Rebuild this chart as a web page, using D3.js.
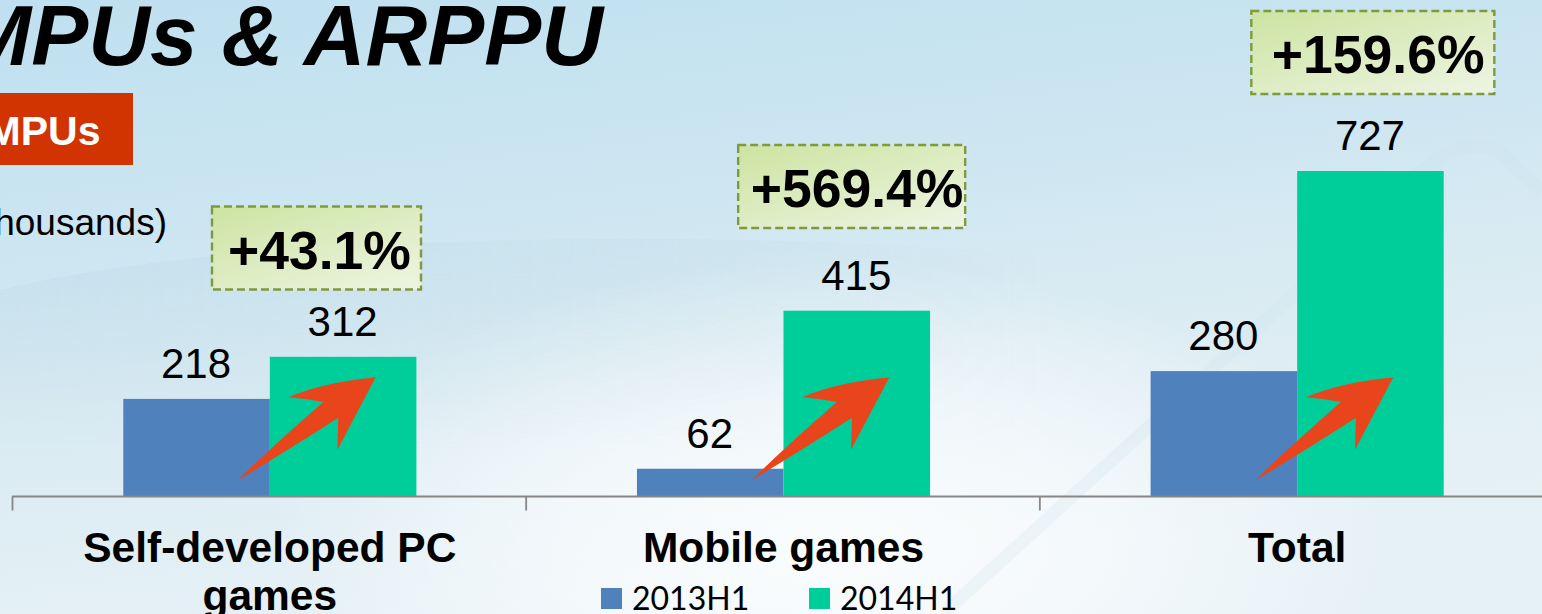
<!DOCTYPE html>
<html><head><meta charset="utf-8">
<style>html,body{margin:0;padding:0;background:#fff;overflow:hidden}svg{display:block}text{font-family:"Liberation Sans",Arial,sans-serif}</style>
<script src="https://cdn.jsdelivr.net/npm/d3@7/dist/d3.min.js"></script>
</head><body><svg id="c" width="1542" height="614"></svg>
<script>
const categories = ["Self-developed PC games", "Mobile games", "Total"];
const series2013 = [218, 62, 280];
const series2014 = [312, 415, 727];
const growthLabels = ["+43.1%", "+569.4%", "+159.6%"];
const seriesNames = ["2013H1", "2014H1"];
const titleText = "MPUs & ARPPU";
const tagText = "MPUs";
const unitText = "(in thousands)";

const W = 1542, H = 614, axisY = 496.5;
const svg = d3.select("#c");
const defs = svg.append("defs");

const bg = defs.append("linearGradient").attr("id","bg").attr("x1",0).attr("y1",0).attr("x2",0.3).attr("y2",1);
[[0,"#bfe0f0"],[0.35,"#cbe5f1"],[0.7,"#dcecf3"],[1,"#e6f1f6"]].forEach(d=>bg.append("stop").attr("offset",d[0]).attr("stop-color",d[1]));
const glow = defs.append("radialGradient").attr("id","glow").attr("gradientUnits","userSpaceOnUse")
  .attr("cx",830).attr("cy",540).attr("r",560).attr("gradientTransform","translate(0,270) scale(1,0.5)");
[[0,0.82],[0.5,0.55],[1,0]].forEach(d=>glow.append("stop").attr("offset",d[0]).attr("stop-color","#fff").attr("stop-opacity",d[1]));
const sw = defs.append("linearGradient").attr("id","sw").attr("gradientUnits","userSpaceOnUse").attr("x1",0).attr("y1",0).attr("x2",1050).attr("y2",0);
[[0,0.28],[0.6,0.16],[1,0]].forEach(d=>sw.append("stop").attr("offset",d[0]).attr("stop-color","#b2d2df").attr("stop-opacity",d[1]));
const sw2 = defs.append("linearGradient").attr("id","sw2").attr("gradientUnits","userSpaceOnUse").attr("x1",0).attr("y1",240).attr("x2",0).attr("y2",450);
[[0,1],[1,0]].forEach(d=>sw2.append("stop").attr("offset",d[0]).attr("stop-color","#fff").attr("stop-opacity",d[1]));
defs.append("mask").attr("id","swm").append("rect").attr("width",W).attr("height",H).attr("fill","url(#sw2)");
const bx = defs.append("linearGradient").attr("id","box").attr("x1",0.05).attr("y1",0).attr("x2",0.9).attr("y2",1);
[[0,"#cde4a3"],[1,"#ecf4e0"]].forEach(d=>bx.append("stop").attr("offset",d[0]).attr("stop-color",d[1]));

svg.append("rect").attr("width",W).attr("height",H).attr("fill","url(#bg)");
svg.append("rect").attr("width",W).attr("height",H).attr("fill","url(#glow)");
// faint backdrop swoosh and ridge
svg.append("path").attr("d","M0,290 C120,262 260,246 520,240 C800,236 950,246 1100,262 L1100,614 L0,614 Z").attr("fill","url(#sw)").attr("mask","url(#swm)");
svg.append("path").attr("d","M945,612 L1297,292 L1400,190 Q1460,130 1500,152 L1542,192").attr("fill","none").attr("stroke","#cde1e9").attr("stroke-width",13).attr("opacity",0.24);

// scales
const x0 = d3.scaleBand().domain(categories).range([13,1554]).paddingInner(0).paddingOuter(0);
const x1 = d3.scaleBand().domain(seriesNames).range([x0.bandwidth()*0.2147, x0.bandwidth()*0.7853]);
const y = d3.scaleLinear().domain([0,727]).range([axisY,171]);
const color = d3.scaleOrdinal().domain(seriesNames).range(["#4f81bd","#00ce9a"]);

// bars
const arrowShift = [0,0,-9.7];
const groups = svg.selectAll("g.cat").data(categories).join("g").attr("class","cat")
  .attr("transform",d=>`translate(${x0(d)},0)`);
const vals = (i)=>[{s:seriesNames[0],v:series2013[i]},{s:seriesNames[1],v:series2014[i]}];
groups.each(function(d,i){
  const g=d3.select(this);
  g.selectAll("rect").data(vals(i)).join("rect")
    .attr("x",e=>x1(e.s)).attr("y",e=>y(e.v)).attr("width",x1.bandwidth())
    .attr("height",e=>axisY-y(e.v)).attr("fill",e=>color(e.s));
  g.selectAll("text.val").data(vals(i)).join("text").attr("class","val")
    .attr("x",e=>x1(e.s)+x1.bandwidth()/2-0.5).attr("y",e=>y(e.v)-21)
    .attr("text-anchor","middle").attr("font-size",42).attr("fill","#000").text(e=>e.v);
  // arrow, in the category's local frame
  g.append("path").attr("fill","#e9451c").attr("transform",`translate(${arrowShift[i]},0)`)
    .attr("d","M224.5,480.5 C262,444 290,420 310.3,402 Q292,398.5 275.5,397.3 Q310,382.5 362.7,377.3 L324.3,450 L325.3,417.7 Q280,447 224.5,480.5 Z");
});

// axis
const axis = svg.append("g").attr("transform",`translate(0,${axisY})`);
axis.append("line").attr("x1",12).attr("x2",W).attr("stroke","#868686").attr("stroke-width",1.8);
axis.selectAll("line.t").data(d3.range(categories.length)).join("line").attr("class","t")
  .attr("x1",i=>x0(categories[i])-0.5).attr("x2",i=>x0(categories[i])-0.5).attr("y1",0).attr("y2",14)
  .attr("stroke","#868686").attr("stroke-width",1.8);

// category labels
const catLines = [["Self-developed PC","games"],["Mobile games"],["Total"]];
categories.forEach((c,i)=>{
  const t = svg.append("text").attr("text-anchor","middle").attr("font-size",42.5).attr("font-weight","700").attr("fill","#000");
  catLines[i].forEach((l,j)=>t.append("tspan").attr("x",x0(c)+x0.bandwidth()/2).attr("y",562+j*48).text(l));
});

// growth callouts
const boxW = [209,227,243], boxTop = [206.5,145,11], boxOff=[199,211.5,211], textOff=[215,224,231.5];
categories.forEach((c,i)=>{
  const bxX = x0(c)+boxOff[i];
  svg.append("rect").attr("x",bxX).attr("y",boxTop[i]).attr("width",boxW[i]).attr("height",83)
    .attr("fill","url(#box)").attr("stroke","#7f9a3c").attr("stroke-width",2.4).attr("stroke-dasharray","8 4");
  svg.append("text").attr("x",x0(c)+textOff[i]).attr("y",boxTop[i]+62)
    .attr("font-size",53.5).attr("font-weight","700").attr("fill","#000").text(growthLabels[i]);
});

// title block
svg.append("text").attr("x",603).attr("y",65).attr("text-anchor","end").attr("font-size",85.5)
  .attr("font-weight","700").attr("font-style","italic").attr("fill","#000").text(titleText);
svg.append("rect").attr("x",0).attr("y",93).attr("width",133).attr("height",72).attr("fill","#d13400");
svg.append("text").attr("x",100.5).attr("y",145).attr("text-anchor","end").attr("font-size",41)
  .attr("font-weight","700").attr("fill","#fff").text(tagText);
svg.append("text").attr("x",167).attr("y",235).attr("text-anchor","end").attr("font-size",37)
  .attr("fill","#000").text(unitText);

// legend
const legendX = d3.scalePoint().domain(seriesNames).range([601,809]);
seriesNames.forEach(s=>{
  svg.append("rect").attr("x",legendX(s)).attr("y",588).attr("width",21).attr("height",21).attr("fill",color(s));
  svg.append("text").attr("x",legendX(s)+31).attr("y",610).attr("font-size",32)
    .style("font-family","Lato,'Open Sans',sans-serif").attr("fill","#000").text(s);
});
</script></body></html>
